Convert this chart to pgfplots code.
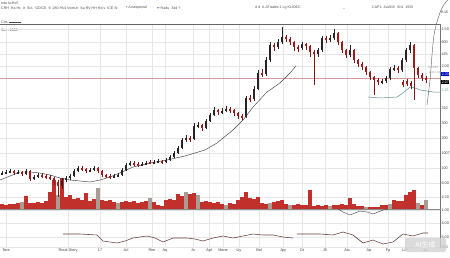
\documentclass[border=0pt]{standalone}
\usepackage{pgfplots}
\pgfplotsset{compat=1.18}
\usepackage{pgfplotstable}
\usepackage{fontspec}
\setmainfont{Liberation Sans}
\newfontfamily\cjk{Noto Sans CJK SC}
\definecolor{cup}{HTML}{2B2323}
\definecolor{cdn}{HTML}{A01C1C}
\definecolor{vred}{HTML}{C2302B}
\definecolor{vgray}{HTML}{A99C92}
\definecolor{gridc}{HTML}{E6E6E6}
\definecolor{matwo}{HTML}{5E8F8C}
\definecolor{osc}{HTML}{6B3B3B}
\definecolor{hline}{HTML}{D49A9A}
\pgfplotstableread{
x o h l c
2 83 86 82 84
6 84 87 83 85
10 85 88 84 86
18 84 87 83 85
26 83 88 82 86
34 78 82 77 80
38 80 84 79 82
62 71 79 68 77
66 77 81 75 79
70 79 83 77 81
74 81 88 80 86
78 86 91 85 89
90 86 89 85 87
94 87 91 86 89
114 80 83 79 81
118 81 84 80 82
122 82 89 81 87
126 87 94 86 92
130 92 96 91 94
142 92 95 91 93
146 93 96 92 94
154 94 97 93 95
158 95 98 94 96
166 95 99 94 97
170 97 102 96 100
174 100 106 99 104
178 104 111 103 109
182 109 119 108 117
186 117 122 115 119
194 118 134 117 131
198 131 135 129 132
206 129 138 128 136
210 136 144 135 142
214 142 150 141 147
222 145 149 143 146
226 146 151 145 148
246 140 161 139 159
254 158 171 156 168
258 168 187 167 184
266 183 200 181 197
270 197 215 195 212
278 210 218 208 215
282 215 230 213 220
302 209 215 207 213
318 203 209 200 207
322 207 221 205 219
330 217 222 215 219
334 219 228 217 224
350 202 212 200 207
382 175 178 173 176
386 176 181 174 179
390 179 190 177 188
394 188 192 186 189
402 187 199 185 197
406 197 209 195 207
410 207 215 204 212
}\upc
\pgfplotstableread{
x o h l c
14 86 87 82 84
22 85 86 81 83
30 86 87 76 78
42 82 84 79 81
46 81 83 78 80
50 80 82 77 79
54 79 80 72 75
58 75 77 60 71
82 89 91 86 88
86 88 89 84 86
98 89 90 84 86
102 86 87 80 82
106 82 83 79 81
110 81 83 78 80
134 94 96 91 93
138 93 95 90 92
150 95 97 93 94
162 96 97 93 95
190 119 121 115 118
202 132 133 126 129
218 147 148 142 145
230 148 150 144 147
234 147 148 141 144
238 144 145 138 141
242 141 143 137 140
250 159 162 155 158
262 184 188 180 183
274 212 214 206 210
286 220 222 215 218
290 218 220 212 215
294 215 216 206 210
298 210 212 205 209
306 213 214 207 211
310 211 212 200 205
314 205 207 172 203
326 219 221 214 217
338 224 225 212 215
342 215 216 204 207
346 207 208 199 202
354 207 208 194 197
358 197 198 190 193
362 193 195 187 190
366 190 191 182 185
370 185 186 177 180
374 180 181 162 177
378 177 179 172 175
398 189 191 184 187
414 212 213 157 189
418 189 190 179 182
422 182 184 176 179
426 179 181 174 177
403 175 177 170 172
407 176 178 171 173
411 174 176 168 171
}\dnc
\pgfplotstableread{
x v
2 5
6 4
10 5
14 5
18 6
26 13
30 6
34 6
38 7
42 6
46 8
50 17
54 29
62 31
66 12
70 14
74 10
78 11
82 9
86 16
90 8
94 10
102 9
106 8
110 9
114 7
122 7
126 8
130 7
134 8
138 6
142 7
146 8
154 7
158 4
162 3
166 9
170 10
174 9
178 15
182 13
190 15
194 16
202 7
206 8
210 7
214 6
218 7
222 5
230 6
234 5
238 9
242 12
246 17
250 11
254 10
258 12
262 6
266 5
274 7
278 8
282 9
286 5
294 4
298 5
302 4
306 4
310 19
314 3
318 4
322 3
326 4
334 4
338 4
342 5
346 4
350 11
354 5
358 3
362 3
370 2
374 2
378 2
382 4
386 4
394 9
398 8
402 8
406 14
410 17
414 19
422 4
}\volred
\pgfplotstableread{
x v
22 7
58 14
98 21
118 6
150 11
186 17
198 14
226 4
270 6
290 4
330 3
366 2
390 5
418 6
426 9
}\volgray
\begin{document}
\begin{tikzpicture}[x=1bp,y=1bp]
\useasboundingbox (0,0) rectangle (450,257);
\fill[white] (0,0) rectangle (450,257);
% header
\node[anchor=west, inner sep=0, font=\fontsize{3.6}{4}\selectfont, text=black!70] at (1,254) {Iota lu:Hd7};
\node[anchor=west, inner sep=0, font=\fontsize{3.6}{4}\selectfont, text=black!70] at (1,249) {CRH\ \ Ha Hc\ \ Ir\ \ ScL\ \ GDICE\ \ 9\ \ 280 PA4 Vvmt.tr\ \ Sa RV HH Hd v\ \ ICE Sr.};
\node[anchor=west, inner sep=0, font=\fontsize{3.6}{4}\selectfont, text=black!70] at (126,249) {\textcolor{cdn}{\textbullet}\ Arsespecial};
\node[anchor=west, inner sep=0, font=\fontsize{3.6}{4}\selectfont, text=black!70] at (157,249) {\textcolor{blue!60!black}{\textbullet\textbullet}\ Radu\ \ 34d\ ?};
\node[anchor=west, inner sep=0, font=\fontsize{3.6}{4}\selectfont, text=black!70] at (255,249) {d d \ A\ ATrades\ 1\ Lg\ KLIDEC};
\node[anchor=west, inner sep=0, font=\fontsize{3.6}{4}\selectfont, text=black!70] at (343,248) {--};
\node[anchor=west, inner sep=0, font=\fontsize{3.6}{4}\selectfont, text=black!70] at (372,250) {CAP1\ \ Jsu915\ \ Sh1\ \ 1555};
\node[anchor=west, inner sep=0, font=\fontsize{3.6}{4}\selectfont, text=black!70] at (1,235) {Ctrs \rule[0.5bp]{12bp}{0.3bp}};
\node[anchor=west, inner sep=0, font=\fontsize{3.6}{4}\selectfont, text=black!80] at (1,227) {Ston 1508};
\node[anchor=west, inner sep=0, font=\fontsize{3.6}{4}\selectfont, text=black!80] at (441,245) {8.15};
\begin{axis}[
  at={(0,9)}, anchor=south west,
  width=440bp, height=224bp, scale only axis,
  xmin=0, xmax=440, ymin=9, ymax=233,
  clip=false,
  axis line style={draw=none},
  major tick length=0pt,
  xtick={6,68,100,126,152,165,193,209,223,239,259,283,302,325,347,369,388,405,425},
  xticklabels={Tore,Rural Diary,17,Jul,Rim,Aq,Js,Apl,Mane,Uy,Bol,Jpy,Dt,J5,Aio,Ap,Fp,L/P,Ja},
  ytick={228,215,203,191,149,134,119,104,89,74,60,47,34,20,10},
  yticklabels={1.50,600,425,2.00,310,300,200,1007,100,6.00,4.20,1.00,4.00,5.00,500},
  yticklabel pos=right,
  grid=major, grid style={gridc, line width=0.4bp},
  ticklabel style={font=\fontsize{3.8}{4}\selectfont, text=black!75},
  xticklabel style={yshift=2.5bp},
  yticklabel style={xshift=-2bp},
  candle/.style 2 args={draw=none, mark=none, forget plot, error bars/.cd, y dir=both, y explicit, error mark=none, error bar style={draw=#1, line width=#2, line cap=butt}},
]
% top and right border
\draw[black!60, line width=0.6bp] (axis cs:0,233) -- (axis cs:440,233);
\draw[black!55, line width=0.5bp] (axis cs:440,9) -- (axis cs:440,233);
% horizontal reference line
\addplot[hline, line width=0.4bp] coordinates {(0,179) (440,179)};
% volume (baseline at 48)
\addplot[candle={vred}{3.2bp}]
  table[x=x, y expr={48+\thisrow{v}/2}, y error expr={\thisrow{v}/2}] {\volred};
\addplot[candle={vgray}{3.2bp}]
  table[x=x, y expr={48+\thisrow{v}/2}, y error expr={\thisrow{v}/2}] {\volgray};
\addplot[black!45, line width=0.4bp] coordinates {(0,48) (440,48)};
% moving average
\addplot[black!75, line width=0.45bp] coordinates {(0,77) (10,81) (20,85) (30,85) (40,84) (50,82) (60,79) (70,77) (80,76) (90,75) (100,77) (110,80) (122,85) (133,90) (150,94) (167,97) (185,101) (205,107) (217,114) (233,127) (243,137) (253,150) (267,165) (280,174) (290,184) (296,191)};
\addplot[matwo, line width=0.5bp] coordinates {(368,160) (380,159) (397,160) (403,164) (410,170) (415,169) (420,167) (427,166) (433,165) (440,165)};
% steep off-scale curve
\addplot[black!60, line width=0.45bp, smooth] coordinates {(427,152) (430,177) (432,202) (434,222) (437,235) (441,247) (445,254) (448,257)};
% wicks
\addplot[candle={cup}{0.6bp}]
  table[x=x, y expr={(\thisrow{h}+\thisrow{l})/2}, y error expr={(\thisrow{h}-\thisrow{l})/2}] {\upc};
\addplot[candle={cdn!80!black}{0.6bp}]
  table[x=x, y expr={(\thisrow{h}+\thisrow{l})/2}, y error expr={(\thisrow{h}-\thisrow{l})/2}] {\dnc};
% bodies
\addplot[candle={cup}{2.8bp}]
  table[x=x, y expr={(\thisrow{o}+\thisrow{c})/2}, y error expr={abs(\thisrow{c}-\thisrow{o})/2}] {\upc};
\addplot[candle={cdn}{2.8bp}]
  table[x=x, y expr={(\thisrow{o}+\thisrow{c})/2}, y error expr={abs(\thisrow{c}-\thisrow{o})/2}] {\dnc};
% oscillator lines
\addplot[osc, line width=0.55bp] coordinates {(63,23) (80,23) (97,22) (103,16) (110,15) (117,14) (125,16) (133,19) (147,21) (155,19) (163,15) (173,19) (187,19) (195,18) (203,16) (213,19) (223,21) (233,19) (243,21) (253,23) (263,22) (273,22) (283,20) (293,19)};
\addplot[osc, line width=0.55bp] coordinates {(297,23) (310,23) (320,23) (333,22) (343,25) (353,22) (358,18) (363,14) (373,17) (383,13) (393,15) (403,23) (413,21) (423,24) (428,24)};
\addplot[black!70, line width=0.45bp] coordinates {(338,48) (343,45) (350,42) (355,44) (360,46) (367,45) (373,43) (378,45) (383,47) (388,48)};
% right side value boxes
\node[anchor=west, inner sep=0.6bp, fill=blue!75!black, text=white, font=\fontsize{3.6}{4}\selectfont] at (axis cs:441,183) {2.33};
\node[anchor=west, inner sep=0.6bp, fill=black, text=white, font=\fontsize{3.6}{4}\selectfont] at (axis cs:441,175) {2.07};
\node[anchor=west, inner sep=0.4bp, text=matwo!80!green, font=\fontsize{3.6}{4}\selectfont] at (axis cs:441,167) {2.25};
\node[anchor=west, inner sep=0.3bp, text=black!40, font=\fontsize{3}{3.5}\selectfont] at (axis cs:428,190) {E1.035};
\node[anchor=west, inner sep=0.3bp, text=black!40, font=\fontsize{3}{3.5}\selectfont] at (axis cs:428,185) {1.42 1.56};
\end{axis}
% watermark
\fill[gray!35, opacity=0.8, rounded corners=2bp] (405,5) rectangle (446,19);
\node[text=white, font=\cjk\fontsize{7}{8}\selectfont] at (425.5,12) {AI生成};
\end{tikzpicture}
\end{document}
